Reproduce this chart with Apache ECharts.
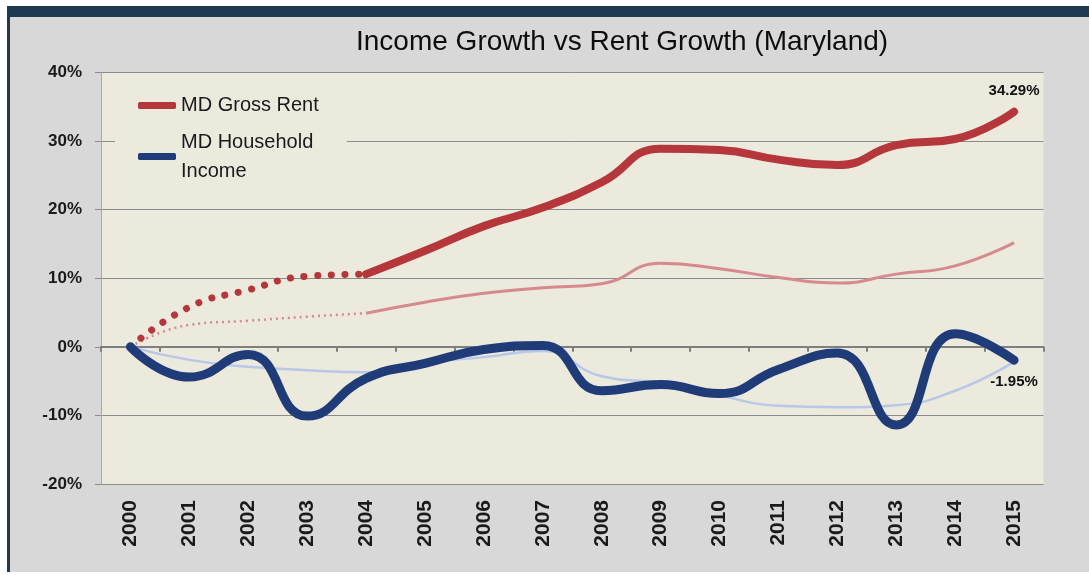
<!DOCTYPE html>
<html>
<head>
<meta charset="utf-8">
<script src="https://cdn.jsdelivr.net/npm/echarts@6/dist/echarts.min.js"></script>
<style>
  html, body { margin: 0; padding: 0; background: #ffffff; width: 1089px; height: 575px; overflow: hidden; }
  #frame { position: absolute; left: 7px; top: 6px; width: 1082px; height: 566px; box-sizing: border-box;
           background: #d8d8d8; border-top: 11px solid #1d3a50; border-left: 3px solid #1d3a50; }
  #chart { position: absolute; left: 0; top: 0; width: 1089px; height: 575px; }
</style>
</head>
<body>
<div id="frame"></div>
<div id="chart"></div>
<script>
// ---- data ----
const years = ['2000','2001','2002','2003','2004','2005','2006','2007','2008','2009','2010','2011','2012','2013','2014','2015'];
const rentMD      = [0, 5.8, 8.3, 10.3, 10.6, 14.0, 17.6, 20.3, 24.0, 28.9, 28.7, 27.3, 26.5, 29.4, 30.3, 34.29];
const incomeMD    = [0, -4.4, -1.1, -10.1, -4.6, -2.4, -0.4, 0.2, -6.4, -5.5, -6.8, -3.3, -0.9, -11.4, 1.9, -1.95];
const rentTrend   = [0, 3.2, 3.8, 4.4, 4.9, 6.5, 7.8, 8.6, 9.2, 12.2, 11.4, 10.1, 9.3, 10.6, 11.8, 15.2];
const incomeTrend = [0, -1.9, -2.9, -3.4, -3.7, -2.3, -1.5, -0.6, -4.3, -5.3, -7.1, -8.6, -8.8, -8.5, -6.4, -2.2];
const dottedUntil = 4; // rent series are dotted from 2000 to 2004
const yMin = -20, yMax = 40, yStep = 10;

const FONT = "'Liberation Sans', Arial, sans-serif";
const RED = '#b5373c', BLUE = '#1f3c78', LRED = '#d68a8e', LBLUE = '#b7c8e8';

function part(arr, from, to) {
  return arr.map((v, i) => (i >= from && i <= to) ? v : null);
}
function withEndLabel(arr, pos, dist) {
  const d = arr.slice();
  const last = d.length - 1;
  d[last] = {
    value: d[last],
    label: {
      show: true, position: pos, distance: dist,
      formatter: p => Number(p.value).toFixed(2) + '%',
      fontFamily: FONT, fontWeight: 'bold', fontSize: 15, color: '#111'
    }
  };
  return d;
}
const last = years.length - 1;

const chart = echarts.init(document.getElementById('chart'), null, { renderer: 'canvas' });
chart.setOption({
  animation: false,
  backgroundColor: 'transparent',
  title: {
    text: 'Income Growth vs Rent Growth (Maryland)',
    left: 356, top: 28, padding: 0,
    textStyle: { fontFamily: FONT, fontSize: 28, fontWeight: 'normal', color: '#0d0d0d' }
  },
  legend: {
    orient: 'vertical', left: 115, top: 85, padding: [6, 28, 4, 23],
    backgroundColor: '#ece9dd',
    itemWidth: 38, itemHeight: 7, itemGap: -7,
    icon: 'roundRect',
    textStyle: { fontFamily: FONT, fontSize: 20, color: '#1a1a1a', lineHeight: 29 },
    data: [
      { name: 'MD Gross Rent' },
      { name: 'MD Household Income', textStyle: { padding: [29, 0, 0, 0] } }
    ],
    formatter: n => n === 'MD Household Income' ? 'MD Household\nIncome' : n,
    selectedMode: false
  },
  grid: {
    left: 101, right: 45.5, top: 72.5, bottom: 91,
    show: true, backgroundColor: '#ece9dd', borderWidth: 0
  },
  xAxis: [
    {
      type: 'category', data: years, boundaryGap: true, position: 'bottom',
      axisLine: { show: false, onZero: false }, axisTick: { show: false },
      axisLabel: { rotate: 90, margin: 16, fontFamily: FONT, fontWeight: 'bold', fontSize: 21, color: '#1a1a1a' },
      splitLine: { show: false }
    },
    {
      type: 'category', data: years, boundaryGap: true, position: 'bottom',
      axisLine: { show: true, onZero: true, lineStyle: { color: '#7f7f7f', width: 2 } },
      axisTick: { show: true, length: 5, lineStyle: { color: '#7f7f7f', width: 2 } },
      axisLabel: { show: false }, splitLine: { show: false }
    }
  ],
  yAxis: {
    type: 'value', min: yMin, max: yMax, interval: yStep,
    axisLine: { show: true, lineStyle: { color: '#a9a9a9', width: 1 } },
    axisTick: { show: true, length: 6, lineStyle: { color: '#8a8a8a' } },
    axisLabel: { margin: 19, formatter: v => v + '%', fontFamily: FONT, fontWeight: 'bold', fontSize: 17, color: '#1a1a1a' },
    splitLine: { show: true, lineStyle: { color: '#8c8c8c', width: 1 } }
  },
  series: [
    {
      name: 'Gross Rent trend', type: 'line', smooth: true, showSymbol: false, z: 2,
      data: part(rentTrend, 0, dottedUntil), color: LRED,
      lineStyle: { color: LRED, width: 2.5, type: [2, 4] }
    },
    {
      name: 'Gross Rent trend', type: 'line', smooth: true, showSymbol: false, z: 2,
      data: part(rentTrend, dottedUntil, last), color: LRED,
      lineStyle: { color: LRED, width: 3 }
    },
    {
      name: 'Household Income trend', type: 'line', smooth: true, showSymbol: false, z: 2,
      data: incomeTrend, color: LBLUE,
      lineStyle: { color: LBLUE, width: 2.5 }
    },
    {
      name: 'MD Gross Rent', type: 'line', smooth: true, showSymbol: false, z: 3,
      data: part(rentMD, 0, dottedUntil), color: RED,
      lineStyle: { color: RED, width: 7, type: [0.1, 13.5], cap: 'round' }
    },
    {
      name: 'MD Gross Rent', type: 'line', smooth: true, z: 3,
      symbol: 'circle', symbolSize: 0.1, showSymbol: true,
      data: withEndLabel(part(rentMD, dottedUntil, last), 'top', 13),
      color: RED, itemStyle: { color: RED },
      lineStyle: { color: RED, width: 8, cap: 'round' }
    },
    {
      name: 'MD Household Income', type: 'line', smooth: true, z: 4,
      symbol: 'circle', symbolSize: 0.1, showSymbol: true,
      data: withEndLabel(incomeMD, 'bottom', 14),
      color: BLUE, itemStyle: { color: BLUE },
      lineStyle: { color: BLUE, width: 9, cap: 'round' }
    }
  ]
});
</script>
</body>
</html>
